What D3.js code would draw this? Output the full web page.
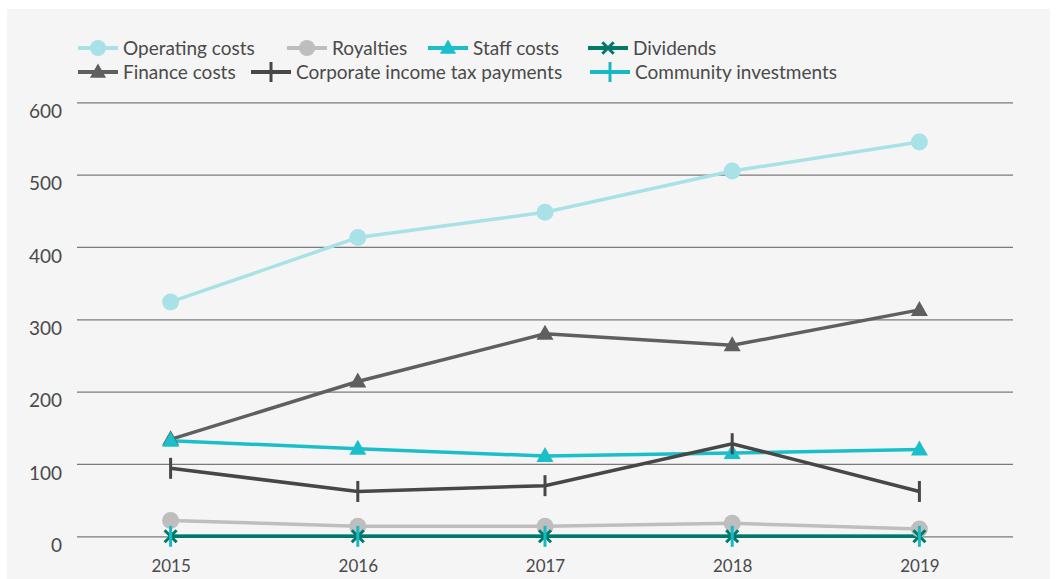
<!DOCTYPE html>
<html><head><meta charset="utf-8">
<script src="https://cdn.jsdelivr.net/npm/d3@7"></script>
<style>
html,body{margin:0;padding:0;background:#fff;}
svg{display:block;font-family:Lato,"Open Sans",sans-serif;}
</style></head>
<body><svg id="c" width="1057" height="579"></svg>
<script>
const years = ["2015","2016","2017","2018","2019"];
const yTicks = [0,100,200,300,400,500,600];
const operatingCosts = [324,413,448,505,545];
const royalties = [22,14,14,18,10];
const staffCosts = [132,121,111,115,120];
const dividends = [0,0,0,0,0];
const financeCosts = [134,214,280,264,313];
const corporateTax = [94,62,70,128,62];
const communityInvestments = [0,0,0,0,0];

const series = [
  {name:"Operating costs", values:operatingCosts, color:"#a8e2e7", marker:"circle"},
  {name:"Royalties", values:royalties, color:"#bebebe", marker:"circle"},
  {name:"Staff costs", values:staffCosts, color:"#1bbfca", marker:"triangle"},
  {name:"Dividends", values:dividends, color:"#00786a", marker:"x"},
  {name:"Finance costs", values:financeCosts, color:"#5f5f5f", marker:"triangle"},
  {name:"Corporate income tax payments", values:corporateTax, color:"#474747", marker:"vbar"},
  {name:"Community investments", values:communityInvestments, color:"#19b9c4", marker:"vbar"}
];
const lineOrder = ["Operating costs","Finance costs","Royalties","Staff costs","Corporate income tax payments","Community investments","Dividends"];
const markerOrder = ["Operating costs","Finance costs","Royalties","Staff costs","Corporate income tax payments","Dividends","Community investments"];

const svg = d3.select("#c");
svg.append("rect").attr("x",7).attr("y",9).attr("width",1043).attr("height",570).attr("fill","#f5f5f5");

const x = d3.scalePoint().domain(years).range([77,1013]).padding(0.5);
const y = d3.scaleLinear().domain([0,600]).range([536.3,102.3]);

const yAxis = d3.axisLeft(y).tickValues(yTicks).tickSize(-(1013-77)).tickFormat(d3.format("d"));
const gy = svg.append("g").attr("transform","translate(77,0)").call(yAxis);
gy.select(".domain").remove();
gy.selectAll(".tick line").attr("stroke","#7a7a7a").attr("stroke-width",1.3);
gy.selectAll(".tick text").attr("x",-15).attr("dy","0.32em").attr("transform","translate(0,9)")
  .attr("fill","#4a4a4a").style("font-size","19px").style("font-family","Lato, sans-serif");

const xAxis = d3.axisBottom(x).tickSize(0);
const gx = svg.append("g").attr("transform","translate(0,557)").call(xAxis);
gx.select(".domain").remove();
gx.selectAll(".tick text").attr("fill","#4a4a4a").style("font-size","17px").style("font-family","Lato, sans-serif").attr("dy","0.71em");

function drawMarker(g, type, color, cx, cy, s){
  s = s||1;
  if(type==="circle"){
    g.append("circle").attr("cx",cx).attr("cy",cy).attr("r",8.5*s).attr("fill",color);
  } else if(type==="triangle"){
    const w=8.5*s, h=15*s;
    g.append("path").attr("d",`M${cx-w},${cy+h*0.4}L${cx+w},${cy+h*0.4}L${cx},${cy-h*0.6}Z`).attr("fill",color);
  } else if(type==="x"){
    const d=6*s;
    g.append("path").attr("d",`M${cx-d},${cy-d}L${cx+d},${cy+d}M${cx-d},${cy+d}L${cx+d},${cy-d}`)
      .attr("stroke",color).attr("stroke-width",3);
  } else if(type==="vbar"){
    g.append("line").attr("x1",cx).attr("x2",cx).attr("y1",cy-10.5*s).attr("y2",cy+10.5*s)
      .attr("stroke",color).attr("stroke-width",3);
  }
}

const line = d3.line().x((d,i)=>x(years[i])).y(d=>y(d));
const gLines = svg.append("g");
lineOrder.forEach(n=>{
  const s = series.find(e=>e.name===n);
  gLines.append("path").attr("d",line(s.values)).attr("fill","none").attr("stroke",s.color).attr("stroke-width",3.5);
});
const gMarks = svg.append("g");
markerOrder.forEach(n=>{
  const s = series.find(e=>e.name===n);
  s.values.forEach((v,i)=>drawMarker(gMarks,s.marker,s.color,x(years[i]),y(v)));
});

const legendPos = [[78,48],[287,48],[428,48],[588,48],[78,72],[251,72],[590,72]];
series.forEach((s,i)=>{
  const [lx,ly]=legendPos[i];
  const g = svg.append("g");
  g.append("line").attr("x1",lx).attr("x2",lx+40).attr("y1",ly).attr("y2",ly).attr("stroke",s.color).attr("stroke-width",4);
  drawMarker(g,s.marker,s.color,lx+20,ly,0.95);
  g.append("text").attr("x",lx+45).attr("y",ly).attr("dy","0.35em").attr("fill","#4a4a4a")
    .style("font-size","19px").text(s.name);
});
</script></body></html>
